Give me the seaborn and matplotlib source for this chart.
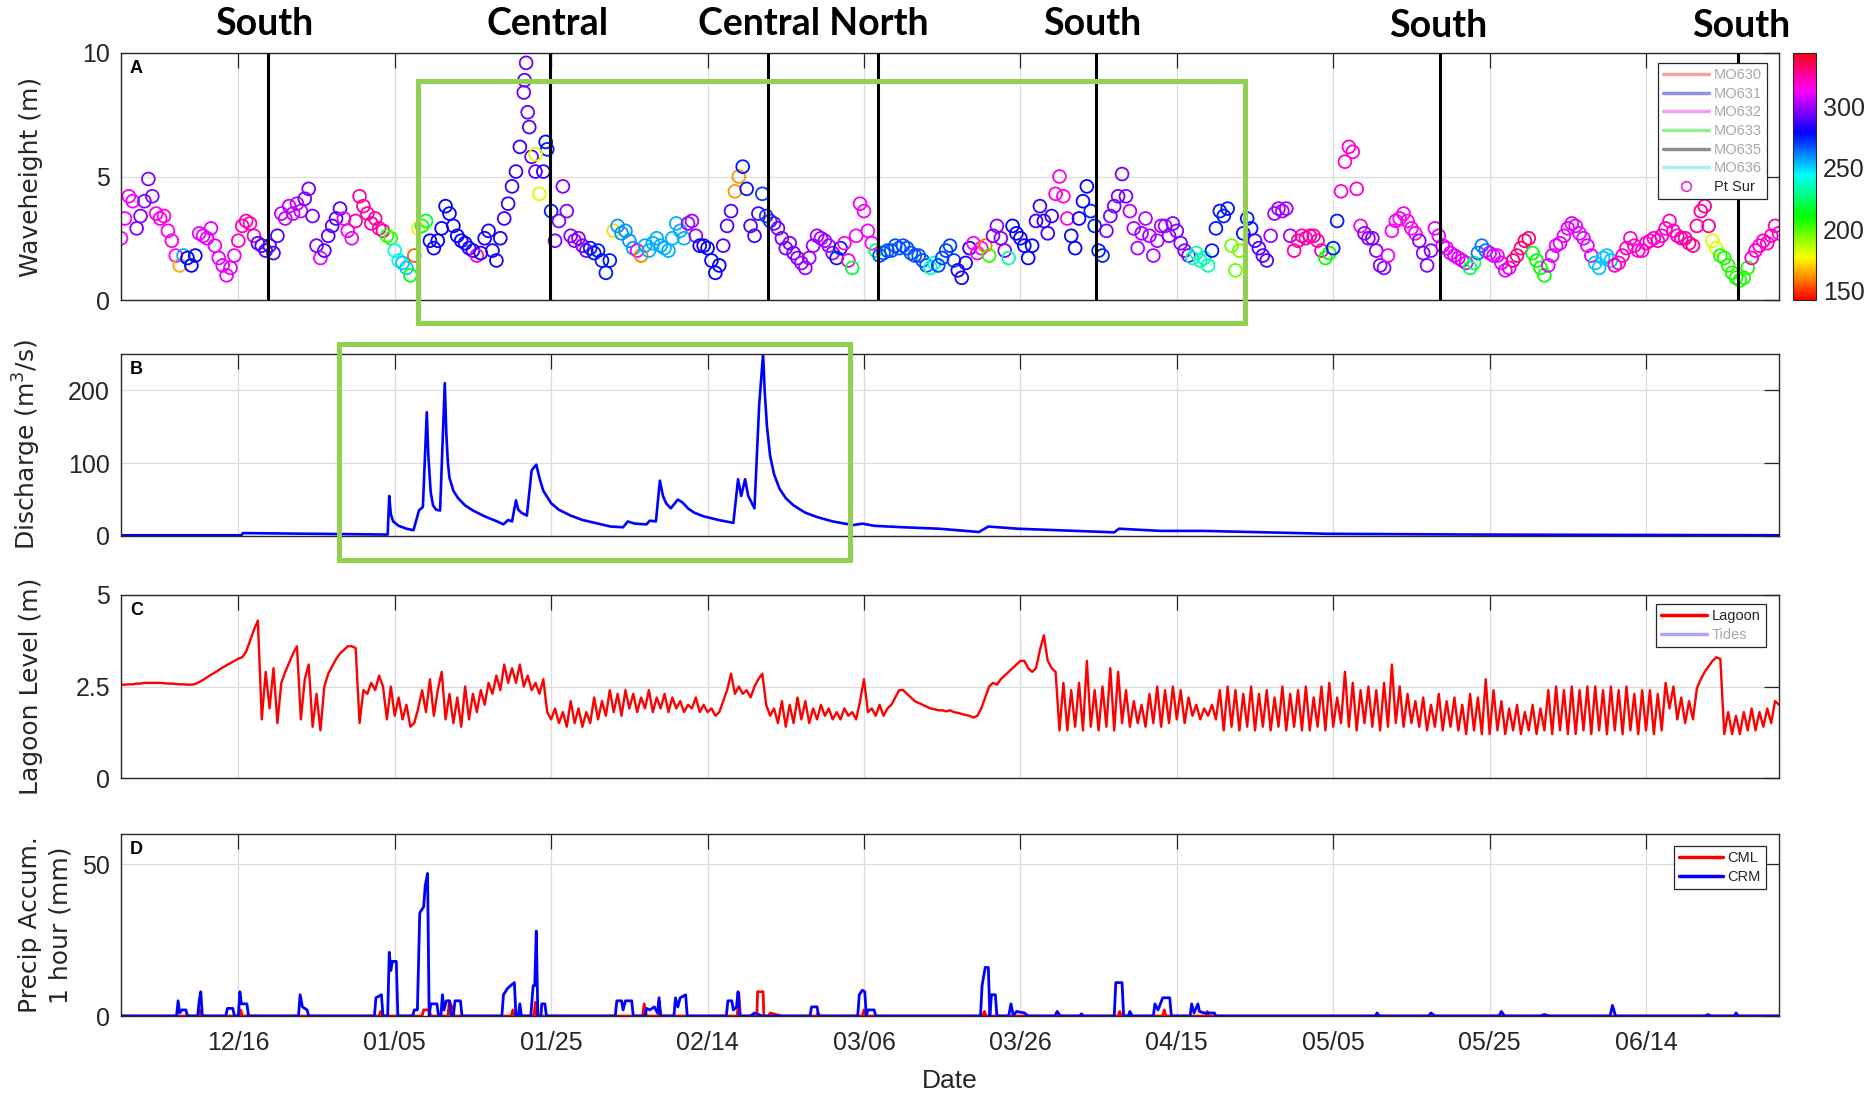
import numpy as np
import pandas as pd
import matplotlib
matplotlib.use("Agg")
import matplotlib.pyplot as plt
import seaborn as sns
from matplotlib.lines import Line2D
from matplotlib.patches import Rectangle
from matplotlib.colors import Normalize
from matplotlib.cm import ScalarMappable

# ---------------- data (time in days since 2016-12-01) ----------------
START_DATE = "2016-12-01"
END_DAY = 212

xtick_dates = ["2016-12-16", "2017-01-05", "2017-01-25", "2017-02-14", "2017-03-06",
               "2017-03-26", "2017-04-15", "2017-05-05", "2017-05-25", "2017-06-14"]
xtick_labels = ["12/16", "01/05", "01/25", "02/14", "03/06",
                "03/26", "04/15", "05/05", "05/25", "06/14"]

# Panel A: significant wave height at Pt Sur, every 12 h
wave_hs = [
    2.5, 3.3, 4.2, 4.0, 2.9, 3.4, 4.0, 4.9, 4.2, 3.5, 3.3, 3.4, 2.8, 2.4, 1.8, 1.4, 1.8, 1.7, 1.4, 1.8,
    2.7, 2.6, 2.5, 2.9, 2.2, 1.7, 1.4, 1.0, 1.3, 1.8, 2.4, 3.0, 3.2, 3.1, 2.6, 2.3, 2.2, 2.0, 2.2, 1.9,
    2.6, 3.5, 3.3, 3.8, 3.5, 3.9, 3.6, 4.1, 4.5, 3.4, 2.2, 1.7, 2.0, 2.6, 3.0, 3.3, 3.7, 3.3, 2.8, 2.5,
    3.2, 4.2, 3.8, 3.5, 3.1, 3.3, 2.9, 2.8, 2.6, 2.5, 2.0, 1.6, 1.5, 1.3, 1.0, 1.8, 2.9, 3.0, 3.2, 2.4,
    2.1, 2.4, 2.9, 3.8, 3.5, 3.0, 2.6, 2.4, 2.3, 2.1, 2.0, 1.8, 1.9, 2.5, 2.8, 2.0, 1.6, 2.5, 3.3, 3.9,
    4.6, 5.2, 6.2, 8.4, 7.6, 5.8, 5.2, 4.3, 5.2, 6.1, 3.6, 2.4, 3.2, 4.6, 3.6, 2.6, 2.4, 2.5, 2.2, 2.0,
    2.1, 1.9, 2.0, 1.6, 1.1, 1.6, 2.8, 3.0, 2.7, 2.8, 2.4, 2.1, 2.0, 1.8, 2.2, 2.0, 2.3, 2.5, 2.2, 2.1,
    2.0, 2.5, 3.1, 2.8, 2.5, 3.1, 3.2, 2.6, 2.2, 2.2, 2.1, 1.6, 1.1, 1.4, 2.2, 3.0, 3.6, 4.4, 5.0, 5.4,
    4.5, 3.0, 2.6, 3.5, 4.3, 3.4, 3.2, 3.1, 2.9, 2.5, 2.1, 2.3, 1.9, 1.7, 1.5, 1.3, 1.7, 2.2, 2.6, 2.5,
    2.4, 2.2, 1.9, 1.7, 2.1, 2.3, 1.6, 1.3, 2.6, 3.9, 3.6, 2.8, 2.3, 2.0, 1.8, 1.9, 2.0, 2.0, 2.2, 2.1,
    2.2, 2.1, 1.9, 1.8, 1.8, 1.6, 1.4, 1.3, 1.5, 1.4, 1.7, 2.0, 2.2, 1.6, 1.2, 0.9, 1.5, 2.1, 2.3, 1.9,
    2.1, 2.2, 1.8, 2.6, 3.0, 2.5, 2.0, 1.7, 3.0, 2.7, 2.5, 2.2, 1.7, 2.2, 3.2, 3.8, 3.2, 2.7, 3.4, 4.3,
    5.0, 4.2, 3.3, 2.6, 2.1, 3.3, 4.0, 4.6, 3.6, 3.0, 2.0, 1.8, 2.8, 3.4, 3.8, 4.2, 5.1, 4.2, 3.6, 2.9,
    2.1, 2.7, 3.3, 2.6, 1.8, 2.4, 3.0, 3.0, 2.6, 3.1, 2.8, 2.3, 2.0, 1.8, 1.7, 1.9, 1.6, 1.7, 1.4, 2.0,
    2.9, 3.6, 3.4, 3.7, 2.2, 1.2, 2.0, 2.7, 3.3, 2.9, 2.4, 2.1, 1.8, 1.6, 2.6, 3.5, 3.7, 3.6, 3.7, 2.6,
    2.0, 2.4, 2.6, 2.5, 2.6, 2.6, 2.4, 2.0, 1.7, 1.9, 2.1, 3.2, 4.4, 5.6, 6.2, 6.0, 4.5, 3.0, 2.7, 2.5,
    2.5, 2.0, 1.4, 1.3, 1.8, 2.8, 3.2, 3.3, 3.5, 3.2, 2.9, 2.7, 2.4, 1.9, 1.4, 2.0, 2.9, 2.6, 2.2, 2.1,
    1.9, 1.8, 1.7, 1.6, 1.5, 1.3, 1.5, 1.9, 2.2, 2.0, 1.9, 1.8, 1.8, 1.5, 1.2, 1.3, 1.6, 1.8, 2.1, 2.4,
    2.5, 1.9, 1.6, 1.3, 1.0, 1.4, 1.8, 2.2, 2.3, 2.6, 2.9, 3.1, 3.0, 2.7, 2.5, 2.2, 1.8, 1.5, 1.3, 1.7,
    1.8, 1.6, 1.4, 1.5, 1.8, 2.1, 2.5, 2.2, 2.0, 2.0, 2.3, 2.4, 2.5, 2.4, 2.6, 2.9, 3.2, 2.8, 2.6, 2.5,
    2.5, 2.3, 2.2, 3.0, 3.6, 3.8, 3.0, 2.4, 2.1, 1.8, 1.7, 1.4, 1.1, 0.9, 0.8, 0.9, 1.3, 1.7, 2.0, 2.2,
    2.4, 2.3, 2.6, 3.0, 2.7,
]
# isolated extreme readings during the January storm
wave_extra_day = [51.6, 51.8, 52.2, 53.0, 54.3]
wave_extra_hs = [8.9, 9.6, 7.0, 5.9, 6.4]
wave_extra_dir = [292, 292, 290, 182, 278]

# Panel A: wave direction (deg), value from each start day onward
dir_start = [0, 2.0, 4.3, 7.3, 7.8, 8.2, 10, 14.6, 15.0, 17.2, 20.5, 23.2, 25.3, 26.0, 28.2, 30,
             34.0, 34.6, 35.0, 36.0, 36.6, 37.2, 37.8, 38.3, 39.4, 44.5, 45.3, 45.7, 49, 51.2, 52.6,
             53.4, 53.6, 54.3, 55.2, 60, 62.8, 63.4, 66.0, 66.4, 66.6, 72.2, 74, 77, 78.4, 79.2, 79.5,
             80.5, 82, 83.4, 87, 91.4, 92.5, 93.2, 93.6, 96.5, 97, 103.5, 104.5, 107, 109, 110.3,
             110.9, 111.3, 113.2, 114, 117, 119.2, 121.3, 124, 126, 129, 134, 137, 139.5, 142,
             143.2, 145, 147, 150, 153.8, 154.8, 155.8, 159, 162, 166, 168, 172.5, 173.2, 175, 178,
             180.3, 182.3, 188.3, 191, 200, 203.5, 204.3, 208.3]
dir_value = [312, 296, 315, 165, 255, 280, 310, 195, 322, 290, 305, 294, 312, 290, 312, 325,
             205, 172, 240, 252, 210, 155, 175, 215, 280, 284, 318, 282, 286, 293, 290,
             182, 286, 275, 296, 276, 172, 258, 312, 160, 255, 300, 280, 290, 162, 198, 276,
             288, 270, 295, 300, 276, 318, 220, 312, 225, 268, 238, 270, 282, 312, 158,
             205, 296, 232, 280, 286, 316, 280, 274, 295, 302, 296, 235, 276, 196,
             276, 290, 300, 325, 210, 276, 318, 296, 314, 296, 310, 222, 262, 310, 330,
             210, 310, 252, 320, 326, 182, 207, 320]

# Region change markers (days) and labels
region_days = [18.8, 54.8, 82.7, 96.8, 124.7, 168.7, 206.7]
region_labels = ["South", "Central", "Central North", "South", "South", "South"]

# Panel B: river discharge (m3/s)
q_day = [0, 15.4, 15.6, 25, 33.8, 34.1, 34.3, 34.5, 34.8, 35.5, 36.5, 37.4, 38.1, 38.6, 39.1,
         39.3, 39.6, 39.9, 40.3, 40.8, 41.4, 41.6, 41.8, 42.0, 42.5, 43.1, 44.0, 45.0, 46.5,
         48.1, 48.9, 49.5, 50.0, 50.5, 50.8, 51.2, 51.9, 52.5, 53.1, 53.5, 54.0, 55.0, 56.0,
         57.5, 59.0, 61.0, 62.6, 64.2, 64.8, 65.7, 67.2, 67.6, 68.4, 68.9, 69.3, 69.7, 70.3,
         71.2, 71.8, 72.5, 73.3, 74.5, 76.4, 78.3, 78.9, 79.3, 79.8, 80.2, 81.0, 81.6, 82.1,
         82.3, 82.6, 83.0, 83.5, 84.2, 85.0, 86.0, 87.5, 89.0, 91.0, 93.6, 94.8, 96.3, 100.0,
         104.6, 109.7, 110.9, 114.7, 127.0, 127.6, 133.0, 138.4, 154.5, 172.9, 212]
q_val = [1, 1, 4, 3, 2, 2, 55, 30, 20, 14, 10, 8, 35, 40, 170,
         110, 60, 42, 36, 35, 210, 140, 100, 80, 62, 52, 42, 35, 27,
         20, 16, 22, 20, 49, 36, 32, 28, 90, 98, 80, 62, 45, 36,
         28, 22, 17, 13, 12, 20, 17, 16, 21, 20, 76, 55, 45, 38,
         50, 46, 38, 32, 27, 22, 18, 78, 55, 78, 55, 38, 180, 250,
         200, 150, 110, 85, 65, 52, 42, 32, 26, 20, 15, 17, 14, 12,
         10, 5.5, 13, 10, 5, 10, 7, 7, 3, 2, 1]

# Panel C: lagoon water level (m), every 12 h
lagoon_level = [
    2.55, 2.55, 2.56, 2.56, 2.58, 2.58, 2.60, 2.60, 2.60, 2.60, 2.60, 2.59, 2.58, 2.58, 2.57, 2.56, 2.56, 2.55, 2.55, 2.57,
    2.62, 2.68, 2.75, 2.82, 2.88, 2.95, 3.02, 3.08, 3.14, 3.20, 3.26, 3.30, 3.45, 3.75, 4.05, 4.30, 1.60, 2.90, 1.90, 3.00,
    1.50, 2.60, 2.90, 3.15, 3.40, 3.60, 1.60, 2.70, 3.10, 1.40, 2.30, 1.30, 2.50, 2.85, 3.05, 3.25, 3.40, 3.50, 3.60, 3.60,
    3.55, 1.50, 2.40, 2.30, 2.60, 2.40, 2.80, 2.50, 1.60, 2.50, 1.70, 2.20, 1.60, 2.00, 1.40, 1.50, 1.90, 2.40, 1.80, 2.70,
    1.70, 2.40, 2.90, 1.60, 2.30, 1.50, 2.20, 1.40, 2.50, 1.60, 2.30, 1.80, 2.40, 2.00, 2.60, 2.30, 2.80, 2.40, 3.10, 2.60,
    3.00, 2.60, 3.10, 2.50, 2.80, 2.40, 2.60, 2.30, 2.70, 1.80, 1.60, 1.90, 1.50, 1.80, 1.40, 2.10, 1.50, 1.90, 1.40, 1.80,
    1.50, 2.20, 1.60, 2.10, 1.70, 2.40, 1.80, 2.30, 1.70, 2.40, 1.90, 2.30, 1.80, 2.20, 1.90, 2.40, 1.80, 2.20, 1.90, 2.30,
    1.80, 2.20, 1.90, 2.10, 1.80, 2.00, 1.90, 2.20, 1.80, 2.00, 1.80, 1.90, 1.70, 1.80, 2.10, 2.40, 2.85, 2.30, 2.50, 2.30,
    2.40, 2.20, 2.50, 2.70, 2.85, 2.00, 1.70, 1.90, 1.50, 2.10, 1.40, 2.00, 1.50, 2.20, 1.60, 2.10, 1.50, 1.90, 1.60, 2.00,
    1.70, 1.90, 1.60, 1.80, 1.60, 1.90, 1.70, 1.80, 1.60, 2.10, 2.70, 1.80, 1.90, 1.70, 2.00, 1.70, 1.90, 2.00, 2.20, 2.40,
    2.40, 2.30, 2.20, 2.10, 2.05, 2.00, 1.95, 1.90, 1.88, 1.85, 1.85, 1.82, 1.85, 1.80, 1.78, 1.75, 1.72, 1.70, 1.65, 1.70,
    1.90, 2.20, 2.50, 2.60, 2.55, 2.70, 2.80, 2.90, 3.00, 3.10, 3.20, 3.20, 3.00, 2.90, 3.00, 3.50, 3.90, 3.20, 3.00, 2.90,
    1.30, 2.60, 1.30, 2.40, 1.40, 2.60, 1.30, 3.20, 1.40, 2.40, 1.30, 2.50, 1.40, 3.00, 1.30, 2.90, 1.50, 2.40, 1.40, 2.10,
    1.50, 2.00, 1.40, 2.30, 1.50, 2.50, 1.40, 2.40, 1.50, 2.50, 1.60, 2.40, 1.50, 2.20, 1.70, 2.00, 1.60, 1.90, 1.70, 2.00,
    1.60, 2.40, 1.30, 2.50, 1.40, 2.40, 1.30, 2.30, 1.40, 2.50, 1.30, 2.30, 1.40, 2.40, 1.30, 2.20, 1.40, 2.50, 1.30, 2.30,
    1.40, 2.40, 1.30, 2.50, 1.30, 2.20, 1.40, 2.50, 1.30, 2.60, 1.40, 2.20, 1.50, 2.90, 1.40, 2.60, 1.30, 2.40, 1.50, 2.50,
    1.40, 2.40, 1.30, 2.60, 1.40, 3.10, 1.50, 2.50, 1.40, 2.30, 1.50, 2.10, 1.40, 2.20, 1.30, 2.00, 1.40, 2.30, 1.30, 2.10,
    1.40, 2.20, 1.30, 2.00, 1.20, 2.30, 1.30, 2.20, 1.20, 2.70, 1.20, 2.40, 1.30, 2.10, 1.20, 1.90, 1.30, 2.00, 1.20, 1.80,
    1.30, 2.00, 1.20, 1.90, 1.30, 2.40, 1.20, 2.50, 1.30, 2.40, 1.20, 2.50, 1.20, 2.40, 1.30, 2.50, 1.20, 2.50, 1.30, 2.40,
    1.20, 2.50, 1.30, 2.40, 1.20, 2.50, 1.30, 2.30, 1.20, 2.40, 1.30, 2.40, 1.20, 2.30, 1.30, 2.60, 1.90, 2.50, 1.60, 2.20,
    1.50, 2.10, 1.60, 2.45, 2.70, 2.90, 3.05, 3.20, 3.30, 3.25, 1.20, 1.80, 1.20, 1.70, 1.20, 1.80, 1.30, 1.90, 1.30, 1.80,
    1.40, 1.90, 1.50, 2.10, 2.00,
]

# Panel D: 1-hour precipitation accumulation (mm)
crm_day = [0, 7.1, 7.3, 7.5, 7.8, 8.3, 8.5, 9.8, 10.0, 10.2, 10.4, 13.4, 13.6, 14.3, 14.5,
           15.0, 15.2, 15.4, 16.1, 16.3, 22.7, 22.9, 23.2, 23.8, 24.0, 32.4, 32.6, 33.3, 33.5,
           34.1, 34.3, 34.5, 34.7, 35.2, 35.4, 37.3, 37.5, 37.9, 38.2, 38.7, 38.9, 39.2, 39.4,
           39.6, 40.4, 40.6, 40.9, 41.1, 41.3, 41.6, 42.0, 42.2, 42.5, 42.7, 43.4, 43.6,
           48.7, 48.9, 49.4, 49.8, 50.3, 50.5, 50.8, 51.0, 51.2, 52.4, 52.7, 52.9, 53.1, 53.3,
           53.7, 53.8, 54.2, 54.4, 63.2, 63.4, 64.0, 64.2, 64.5, 65.3, 65.5, 67.0, 67.2, 67.6,
           68.2, 68.6, 68.8, 69.0, 70.7, 70.9, 71.2, 71.5, 72.2, 72.4, 77.4, 77.6, 78.1, 78.3,
           78.7, 78.9, 79.1, 80.5, 81.0, 82.0, 88.1, 88.3, 89.0, 89.2, 94.2, 94.4, 94.8, 95.1,
           95.3, 95.5, 96.3, 96.5, 109.9, 110.1, 110.5, 110.9, 111.1, 111.3, 111.8, 112.0,
           113.5, 113.8, 114.1, 114.5, 115.5, 116.0, 119.4, 119.7, 120.1, 122.6, 122.8, 123.1,
           127.0, 127.2, 128.0, 128.2, 128.8, 129.0, 129.3, 132.0, 132.2, 132.6, 133.2, 134.1,
           134.3, 136.7, 136.9, 137.2, 137.7, 137.9, 138.5, 139.8, 140.0, 160.4, 160.6, 160.9,
           167.2, 167.5, 168.0, 176.2, 176.5, 176.9, 181.5, 182.0, 182.6, 190.4, 190.7, 191.1,
           202.6, 202.9, 203.3, 206.3, 206.5, 206.8, 212]
crm_val = [0, 0, 5, 1, 2, 2, 0, 0, 5, 8, 0, 0, 2.5, 2.5, 0,
           0, 8, 4, 4, 0, 0, 7, 3, 2, 0, 0, 6, 7, 0,
           0, 21, 15, 18, 18, 0, 0, 2, 2, 34, 36, 43, 47, 0,
           4, 4, 0, 0, 7, 2, 5, 5, 0, 0, 5, 5, 0,
           0, 7, 9, 10, 11, 0, 0, 4, 0, 0, 10, 10, 28, 0,
           0, 4, 4, 0, 0, 5, 5, 2, 5, 5, 0, 0, 2.5, 2,
           3, 1, 6, 0, 0, 6, 3, 6, 7, 0, 0, 5, 5, 2,
           3, 8, 0, 0, 1, 0, 0, 3, 3, 0, 0, 7, 8.5, 8,
           0, 2, 2, 0, 0, 10, 16, 16, 0, 7, 7, 0,
           0, 4, 0, 1.5, 1, 0, 0, 1.5, 0, 0, 0.7, 0,
           0, 11, 11, 0, 0, 1.5, 0, 0, 4, 2, 6, 6,
           0, 0, 4, 1, 4, 1.5, 1, 1, 0, 0, 1, 0,
           0, 1, 0, 0, 1.5, 0, 0, 0.5, 0, 0, 3.5, 0,
           0, 0.5, 0, 0, 1, 0, 0]
cml_day = [0, 9.9, 10.1, 10.3, 15.1, 15.3, 15.5, 33.0, 33.2, 33.4, 38.5, 38.7, 39.4, 39.6,
           41.8, 42.0, 42.3, 42.6, 49.9, 50.1, 50.3, 52.8, 53.0, 53.2, 66.7, 66.9, 67.2,
           68.7, 68.8, 69.0, 78.8, 79.0, 79.2, 81.3, 81.4, 82.1, 82.2, 82.8, 83.0, 84.5,
           89.0, 89.1, 89.3, 94.8, 95.0, 95.2, 110.2, 110.4, 110.6, 127.5, 127.7, 127.9,
           133.2, 133.4, 133.6, 138.7, 138.9, 139.1, 212]
cml_val = [0, 0, 2, 0, 0, 2, 0, 0, 1.5, 0, 0, 2, 2, 0,
           0, 5, 3, 0, 0, 2, 0, 0, 4.5, 0, 0, 4, 0,
           0, 5, 0, 0, 7.5, 0, 0, 8, 8, 0, 0, 1, 0,
           0, 1, 0, 0, 2, 0, 0, 1.5, 0, 0, 1.5, 0,
           0, 2, 0, 0, 1.5, 0, 0]

buoy_labels = ["MO630", "MO631", "MO632", "MO633", "MO635", "MO636"]
buoy_colors = ["#f4a3a3", "#8f8ff2", "#f3a0f3", "#93f093", "#909090", "#a3f2f2"]
cbar_ticks = [150, 200, 250, 300]
dir_range = (142, 344)

# ---------------- styling ----------------
sns.set_theme(style="white")
plt.rcParams["font.family"] = ["Liberation Sans", "DejaVu Sans"]
TXT = "#262626"
start = pd.Timestamp(START_DATE)


def to_dt(days):
    return start + pd.to_timedelta(np.asarray(days, dtype=float), unit="D")


W, H = 1876, 1094
fig = plt.figure(figsize=(W / 100, H / 100), dpi=100)


def box(l, t, r, b):
    return [l / W, 1 - b / H, (r - l) / W, (b - t) / H]


axA = fig.add_axes(box(121, 53, 1779, 300))
axB = fig.add_axes(box(121, 354, 1779, 536))
axC = fig.add_axes(box(121, 595, 1779, 778))
axD = fig.add_axes(box(121, 834, 1779, 1016))
cax = fig.add_axes(box(1793, 53, 1816, 300))

# ---- Panel A
wave_day = np.arange(len(wave_hs)) * 0.5
idx = np.searchsorted(np.array(dir_start), wave_day, side="right") - 1
wave_dir = np.array(dir_value)[idx]
dfA = pd.DataFrame({
    "time": to_dt(np.r_[wave_day, wave_extra_day]),
    "hs": np.r_[wave_hs, wave_extra_hs],
    "dir": np.r_[wave_dir, wave_extra_dir],
})
sns.scatterplot(data=dfA, x="time", y="hs", hue="dir", palette="hsv", hue_norm=dir_range,
                s=85, linewidth=1.3, legend=False, ax=axA, zorder=2)
coll = axA.collections[-1]
fc = coll.get_facecolors()
coll.set_edgecolors(fc)
coll.set_facecolors("none")
for d in region_days:
    axA.axvline(to_dt([d])[0], color="black", lw=2.2, zorder=3)

# ---- Panel B
dfB = pd.DataFrame({"time": to_dt(q_day), "q": q_val})
sns.lineplot(data=dfB, x="time", y="q", ax=axB, color="#0000ff", lw=1.9, estimator=None)

# ---- Panel C
lag_day = np.arange(len(lagoon_level)) * 0.5
dfC = pd.DataFrame({"time": to_dt(lag_day), "lev": lagoon_level})
sns.lineplot(data=dfC, x="time", y="lev", ax=axC, color="#ff0000", lw=1.7, estimator=None)

# ---- Panel D
dfD1 = pd.DataFrame({"time": to_dt(cml_day), "p": cml_val})
dfD2 = pd.DataFrame({"time": to_dt(crm_day), "p": crm_val})
sns.lineplot(data=dfD1, x="time", y="p", ax=axD, color="#ff0000", lw=2.0, estimator=None)
sns.lineplot(data=dfD2, x="time", y="p", ax=axD, color="#0000ff", lw=2.0, estimator=None)

# ---- common axes styling
specs = [
    (axA, (0, 10), [0, 5, 10], ["0", "5", "10"], "Waveheight (m)", "A"),
    (axB, (0, 250), [0, 100, 200], ["0", "100", "200"], "Discharge (m$^3$/s)", "B"),
    (axC, (0, 5), [0, 2.5, 5], ["0", "2.5", "5"], "Lagoon Level (m)", "C"),
    (axD, (0, 60), [0, 50], ["0", "50"], "Precip Accum.\n1 hour (mm)", "D"),
]
for ax, ylim, yt, ytl, ylab, letter in specs:
    ax.set_xlim(to_dt([0])[0], to_dt([END_DAY])[0])
    ax.set_ylim(*ylim)
    ax.set_yticks(yt)
    ax.set_yticklabels(ytl)
    ax.set_xticks(pd.to_datetime(xtick_dates))
    if ax is axD:
        ax.set_xticklabels(xtick_labels)
    else:
        ax.set_xticklabels([])
    ax.grid(True, color="#dcdcdc", lw=0.9)
    ax.set_axisbelow(True)
    for sp in ax.spines.values():
        sp.set_visible(True)
        sp.set_color(TXT)
        sp.set_linewidth(1.0)
    ax.tick_params(axis="both", which="both", direction="in", length=11, width=0.9,
                   color=TXT, top=True, right=True, labelsize=18, labelcolor=TXT, pad=8)
    ax.tick_params(axis="x", pad=11)
    ax.set_xlabel("")
    ax.set_ylabel(ylab, fontsize=18, color=TXT, family=["DejaVu Sans"], linespacing=1.35)
    ax.annotate(letter, xy=(0, 1), xycoords="axes fraction", xytext=(6.5, -11.5),
                textcoords="offset points", ha="left", va="center",
                fontsize=13, fontweight="bold", color="black")

axA.yaxis.set_label_coords(-0.047, 0.5)
axB.yaxis.set_label_coords(-0.047, 0.5)
axC.yaxis.set_label_coords(-0.047, 0.5)
axD.yaxis.set_label_coords(-0.029, 0.5)
axD.set_xlabel("Date", fontsize=19, color=TXT, labelpad=10)

# ---- colorbar
sm = ScalarMappable(norm=Normalize(*dir_range), cmap="hsv")
cb = fig.colorbar(sm, cax=cax, ticks=cbar_ticks)
cb.ax.tick_params(labelsize=18, colors=TXT, direction="in", length=4, pad=5)
cb.outline.set_edgecolor(TXT)
cb.outline.set_linewidth(0.8)

# ---- legends
legkw = dict(loc="upper right", borderaxespad=0, frameon=True, fancybox=False,
             edgecolor=TXT, framealpha=1, fontsize=10.5, handletextpad=0.3,
             labelspacing=0.32, borderpad=0.35)
hA = [Line2D([], [], color=c, lw=2.5) for c in buoy_colors]
hA.append(Line2D([], [], ls="none", marker="o", mfc="none", mec="#e030e0", ms=7, mew=1.2))
legA = axA.legend(hA, buoy_labels + ["Pt Sur"], bbox_to_anchor=(0.9928, 0.9595),
                  handlelength=3.2, **legkw)
for t in legA.get_texts()[:-1]:
    t.set_color("#a8a8a8")
legA.get_frame().set_linewidth(0.9)
legA.set_zorder(5)

hC = [Line2D([], [], color="#ff0000", lw=2.5), Line2D([], [], color="#a8a8ff", lw=2.5)]
legC = axC.legend(hC, ["Lagoon", "Tides"], bbox_to_anchor=(0.992, 0.951),
                  handlelength=3.2, **legkw)
legC.get_texts()[1].set_color("#a8a8a8")
legC.get_frame().set_linewidth(0.9)

hD = [Line2D([], [], color="#ff0000", lw=2.5), Line2D([], [], color="#0000ff", lw=2.5)]
legD = axD.legend(hD, ["CML", "CRM"], bbox_to_anchor=(0.992, 0.934),
                  handlelength=3.0, **legkw)
legD.get_frame().set_linewidth(0.9)

# ---- region titles
title_x = [264, 548, 813, 1092, 1438, 1741]
title_y = [24, 24, 24, 24, 26, 26]
for lab, x, y in zip(region_labels, title_x, title_y):
    fig.text(x / W, 1 - y / H, lab, ha="center", va="center", fontsize=27,
             fontweight="bold", family=["Lato", "DejaVu Sans"], color="black")

# ---- green highlight boxes
for (l, t, r, b) in [(418, 81, 1245, 323), (339, 344, 850, 560)]:
    fig.add_artist(Rectangle((l / W, 1 - b / H), (r - l) / W, (b - t) / H,
                             transform=fig.transFigure, fill=False,
                             edgecolor="#92d050", lw=3.6, zorder=10))

fig.savefig("out.png", dpi=100)
